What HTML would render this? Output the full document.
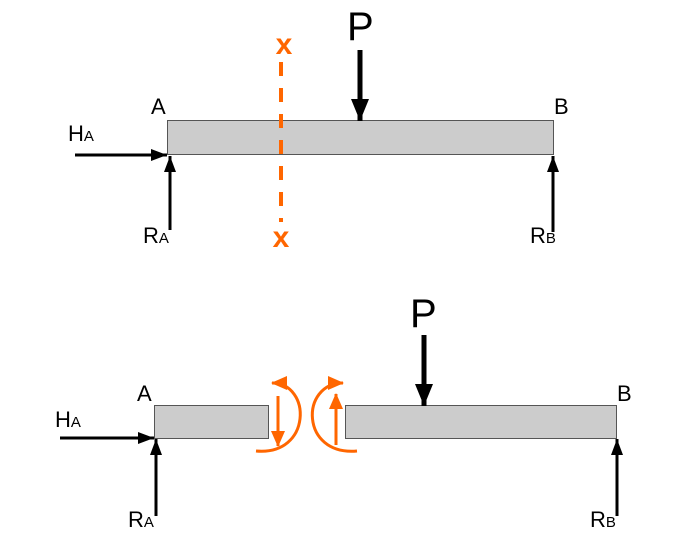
<!DOCTYPE html>
<html><head><style>body{margin:0;background:#fff}svg{display:block}text{font-family:"Comic Sans MS","Liberation Sans",sans-serif}</style></head>
<body>
<svg width="700" height="534" viewBox="0 0 700 534" xmlns="http://www.w3.org/2000/svg">
<defs>
<marker id="a2" markerWidth="16" markerHeight="12" refX="16" refY="6" orient="auto" markerUnits="userSpaceOnUse"><path d="M0,0 L16,6 L0,12 Z" fill="#000"/></marker>
<marker id="p" markerWidth="22" markerHeight="18" refX="22" refY="9" orient="auto" markerUnits="userSpaceOnUse"><path d="M0,0 L22,9 L0,18 Z" fill="#000"/></marker>
<marker id="o" markerWidth="16" markerHeight="14" refX="15" refY="7" orient="auto" markerUnits="userSpaceOnUse"><path d="M0,0 L16,7 L0,14 Z" fill="#f60"/></marker>
</defs>
<g fill="#ccc" stroke="#555" stroke-width="1">
<rect x="167.5" y="120.5" width="386" height="34"/>
<rect x="154.5" y="405.5" width="114" height="33"/>
<rect x="345.5" y="405.5" width="271" height="33"/>
</g>
<g stroke="#000" stroke-width="3" fill="none">
<line x1="75" y1="155" x2="167" y2="155" marker-end="url(#a2)"/>
<line x1="170" y1="230" x2="170" y2="156" marker-end="url(#a2)"/>
<line x1="553" y1="232" x2="553" y2="156" marker-end="url(#a2)"/>
<line x1="360" y1="50" x2="360" y2="121" stroke-width="5" marker-end="url(#p)"/>
<line x1="60" y1="438" x2="154" y2="438" marker-end="url(#a2)"/>
<line x1="156" y1="516" x2="156" y2="439" marker-end="url(#a2)"/>
<line x1="617" y1="516" x2="617" y2="439" marker-end="url(#a2)"/>
<line x1="424" y1="335" x2="424" y2="406" stroke-width="5" marker-end="url(#p)"/>
</g>
<line x1="281" y1="62" x2="281" y2="222" stroke="#f60" stroke-width="4" stroke-dasharray="14,12"/>
<g fill="#f60" font-size="30" font-weight="bold"><text x="284" y="54" text-anchor="middle">x</text><text x="281" y="247" text-anchor="middle">x</text></g>
<g stroke="#f60" stroke-width="3" fill="none">
<path d="M256,451 C312,456 312,383 272,383" marker-end="url(#o)"/>
<line x1="278" y1="396" x2="278" y2="446" marker-end="url(#o)"/>
<path d="M357,451 C300,456 300,383 343,383" marker-end="url(#o)"/>
<line x1="336" y1="445" x2="336" y2="394" marker-end="url(#o)"/>
</g>
<g fill="#000" font-size="22">
<text x="151" y="114">A</text><text x="554" y="114">B</text>
<text x="68" y="141">H<tspan font-size="15">A</tspan></text>
<text x="143" y="243">R<tspan font-size="15">A</tspan></text>
<text x="530" y="243">R<tspan font-size="15">B</tspan></text>
<text x="137" y="401">A</text><text x="617" y="401">B</text>
<text x="55" y="427">H<tspan font-size="15">A</tspan></text>
<text x="128" y="527">R<tspan font-size="15">A</tspan></text>
<text x="590" y="527">R<tspan font-size="15">B</tspan></text>
<text x="347" y="40" font-size="40">P</text>
<text x="410" y="327" font-size="40">P</text>
</g>
</svg>
</body></html>
